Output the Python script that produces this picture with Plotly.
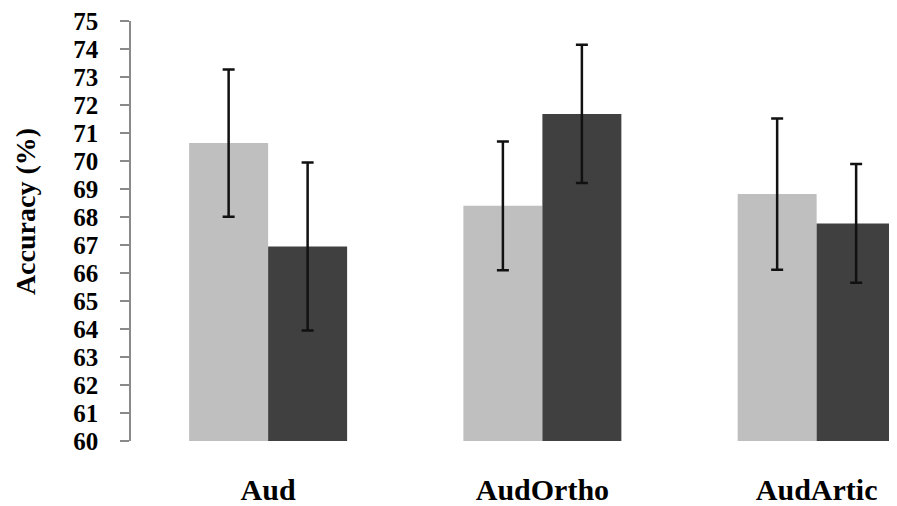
import plotly.graph_objects as go

categories = ["Aud", "AudOrtho", "AudArtic"]
light_values = [70.64, 68.40, 68.82]
light_errors = [2.63, 2.30, 2.70]
dark_values = [66.95, 71.68, 67.77]
dark_errors = [3.00, 2.47, 2.12]
y_ticks = list(range(60, 76))
y_title = "Accuracy (%)"

FONT = "Liberation Serif, Times New Roman, serif"

fig = go.Figure()
fig.add_trace(go.Bar(
    x=categories, y=light_values, name="light",
    marker=dict(color="#BFBFBF", line=dict(width=0)),
    error_y=dict(type="data", array=light_errors, visible=True,
                 color="#111111", thickness=2.5, width=6),
))
fig.add_trace(go.Bar(
    x=categories, y=dark_values, name="dark",
    marker=dict(color="#404040", line=dict(width=0)),
    error_y=dict(type="data", array=dark_errors, visible=True,
                 color="#111111", thickness=2.5, width=6),
))

fig.update_layout(
    width=889, height=498,
    margin=dict(l=123, r=0, t=12, b=64),
    barmode="group", bargap=0.424, bargroupgap=0,
    showlegend=False,
    plot_bgcolor="white", paper_bgcolor="white",
    font=dict(family=FONT, color="black"),
)
fig.update_xaxes(
    range=[-0.5, 2.293], showline=False, showgrid=False, ticks="",
    tickfont=dict(family=FONT, size=30, weight="bold", color="black"),
    ticklabelstandoff=28,
)
fig.update_yaxes(
    range=[60, 75], tickvals=y_ticks, ticktext=[str(v) for v in y_ticks],
    showgrid=False, zeroline=False,
    showline=True, linecolor="#8a8a8a", linewidth=1.5,
    ticks="outside", ticklen=9, tickcolor="#8a8a8a", tickwidth=1.5,
    tickfont=dict(family=FONT, size=25, weight="bold", color="black"),
    ticklabelstandoff=17, ticklabeloverflow="allow",
)
fig.add_annotation(
    text=y_title, xref="paper", yref="paper", x=0, y=0.545,
    xshift=-106, xanchor="center", yanchor="middle", textangle=-90,
    showarrow=False,
    font=dict(family=FONT, size=28, weight="bold", color="black"),
)

fig.write_html("out.html")
